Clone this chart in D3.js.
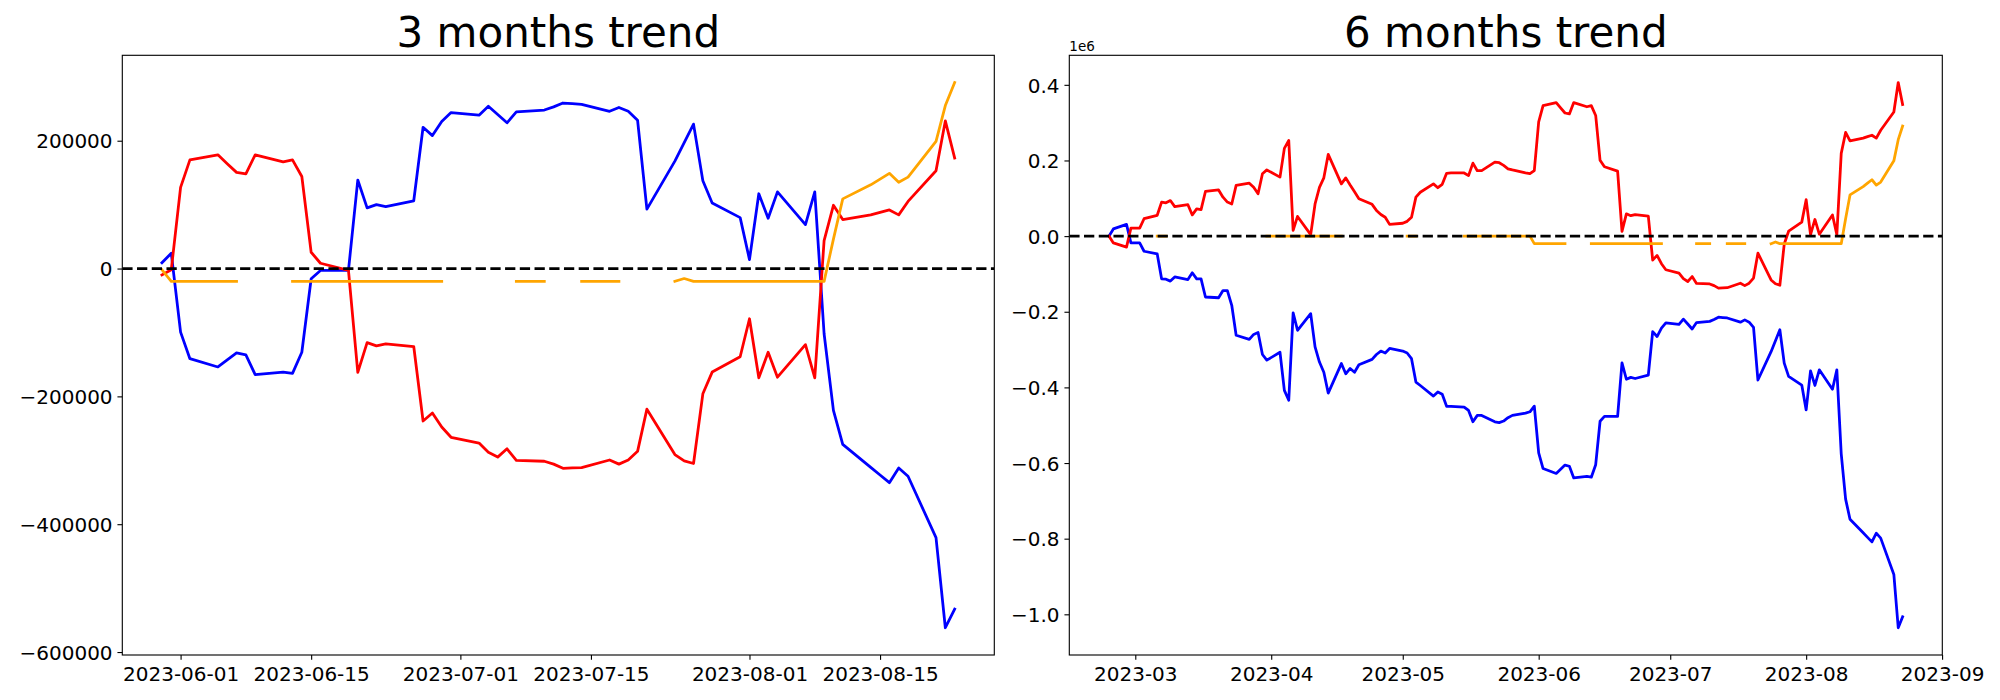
<!DOCTYPE html>
<html><head><meta charset="utf-8">
<script src="https://cdn.jsdelivr.net/npm/d3@7"></script>
<style>
body{margin:0;background:#fff;}
svg text{font-family:"DejaVu Sans",sans-serif;fill:#000;}
</style>
</head><body>
<svg id="chart" width="2000" height="700"></svg>
<script>
// ---------------- 3 months data ----------------
const dates3m = ["2023-05-30","2023-05-31","2023-06-01","2023-06-02",
"2023-06-05","2023-06-06","2023-06-07","2023-06-08","2023-06-09",
"2023-06-12","2023-06-13","2023-06-14","2023-06-15","2023-06-16",
"2023-06-19","2023-06-20","2023-06-21","2023-06-22","2023-06-23",
"2023-06-26","2023-06-27","2023-06-28","2023-06-29","2023-06-30",
"2023-07-03","2023-07-04","2023-07-05","2023-07-06","2023-07-07",
"2023-07-10","2023-07-11","2023-07-12","2023-07-13","2023-07-14",
"2023-07-17","2023-07-18","2023-07-19","2023-07-20","2023-07-21",
"2023-07-24","2023-07-25","2023-07-26","2023-07-27","2023-07-28",
"2023-07-31","2023-08-01","2023-08-02","2023-08-03","2023-08-04",
"2023-08-07","2023-08-08","2023-08-09","2023-08-10","2023-08-11",
"2023-08-14","2023-08-15","2023-08-16","2023-08-17","2023-08-18",
"2023-08-21","2023-08-22","2023-08-23"];
const blue3m = [9000, 24000, -99500, -141000,
-154000, -143000, -132000, -135000, -166000,
-162000, -164000, -131000, -16000, -3000,
-3000, 138500, 95000, 100000, 97000,
106000, 221000, 208000, 230000, 244000,
240000, 254000, 241000, 228000, 245000,
248000, 253000, 259000, 258000, 257000,
246000, 252000, 246000, 232000, 93000,
168000, 197000, 226000, 137500, 102600,
79700, 14000, 117000, 78600, 120000,
68700, 120000, -102000, -222000, -275000,
-311000, -323000, -335000, -312000, -325000,
-421000, -562000, -533000];
const red3m = [-10000, -2000, 127000, 170000,
178000, 164000, 150500, 148000, 178000,
167000, 170000, 144000, 25500, 8300,
-3000, -162500, -116000, -121000, -118000,
-122000, -238500, -226000, -248000, -264000,
-273000, -287500, -295000, -282000, -300000,
-301500, -306000, -312500, -312000, -311500,
-299500, -306000, -299500, -286000, -220000,
-291000, -301000, -305000, -196000, -162000,
-138000, -78600, -171000, -131000, -170000,
-119000, -171000, 43700, 99000, 76600,
84000, 88000, 91700, 84000, 105000,
153000, 231000, 173000];
const orange3m = [-2000, -20000, -20000, -20000,
-20000, -20000, -20000, null, null,
null, -20000, -20000, -20000, -20000,
-20000, -20000, -20000, -20000, -20000,
-20000, -20000, -20000, -20000, null,
null, null, null, null, -20000,
-20000, null, null, null, -20000,
-20000, -20000, null, null, null,
-20000, -15600, -20000, -20000, -20000,
-20000, -20000, -20000, -20000, -20000,
-20000, -20000, -20000, 46000, 109000,
131000, 140000, 149000, 135000, 143000,
199000, 255000, 291000];

// ---------------- 6 months data ----------------
const dates6m = ["2023-02-23","2023-02-24","2023-02-27","2023-02-28","2023-03-01","2023-03-02","2023-03-03",
"2023-03-06","2023-03-07","2023-03-08","2023-03-09","2023-03-10",
"2023-03-13","2023-03-14","2023-03-15","2023-03-16","2023-03-17",
"2023-03-20","2023-03-21","2023-03-22","2023-03-23","2023-03-24",
"2023-03-27","2023-03-28","2023-03-29","2023-03-30","2023-03-31",
"2023-04-03","2023-04-04","2023-04-05","2023-04-06","2023-04-07",
"2023-04-10","2023-04-11","2023-04-12","2023-04-13","2023-04-14",
"2023-04-17","2023-04-18","2023-04-19","2023-04-20","2023-04-21",
"2023-04-24","2023-04-25","2023-04-26","2023-04-27","2023-04-28",
"2023-05-01","2023-05-02","2023-05-03","2023-05-04","2023-05-05",
"2023-05-08","2023-05-09","2023-05-10","2023-05-11","2023-05-12",
"2023-05-15","2023-05-16","2023-05-17","2023-05-18","2023-05-19",
"2023-05-22","2023-05-23","2023-05-24","2023-05-25","2023-05-26",
"2023-05-29"].concat(dates3m);
const blue6m = [0, 19000, 31000, -18000, -18000, -18000, -40000,
-47000, -113000, -114000, -119000, -108000,
-115000, -97000, -113000, -113000, -161000,
-163000, -144000, -144000, -183000, -262000,
-273000, -260000, -255000, -313000, -328000,
-307000, -408000, -434000, -203000, -249000,
-205000, -293000, -333000, -360000, -415000,
-337000, -364000, -350000, -360000, -340000,
-326000, -313000, -304000, -309000, -297000,
-304000, -309000, -324000, -386000, -395000,
-423000, -412000, -418000, -450000, -450000,
-452000, -461000, -491000, -474000, -474000,
-491000, -493000, -489000, -480000, -474000,
-468000,
-464500, -449500, -573000, -614500,
-627500, -616500, -605500, -608500, -639500,
-635500, -637500, -604500, -489500, -476500,
-476500, -335000, -378500, -373500, -376500,
-367500, -252500, -265500, -243500, -229500,
-233500, -219500, -232500, -245500, -228500,
-225500, -220500, -214500, -215500, -216500,
-227500, -221500, -227500, -241500, -380500,
-305500, -276500, -247500, -336000, -370900,
-393800, -459500, -356500, -394900, -353500,
-404800, -353500, -575500, -695500, -748500,
-784500, -796500, -808500, -785500, -798500,
-894500, -1035500, -1006500];
const red6m = [0, -18000, -29000, 21000, 21000, 21000, 46000,
55000, 90000, 88000, 94000, 78000,
83000, 56000, 72000, 70000, 118000,
122000, 103000, 90000, 85000, 134000,
140000, 129000, 112000, 165000, 175000,
156000, 232000, 253000, 15000, 52000,
4000, 85000, 129000, 154000, 216000,
138000, 154000, 135000, 117000, 99000,
84000, 68000, 57000, 50000, 31000,
34000, 39000, 50000, 103000, 116000,
138000, 128000, 137000, 166000, 167000,
167000, 160000, 193000, 173000, 173000,
195500, 194000, 187000, 178000, 175000,
167000,
165000, 173000, 302000, 345000,
353000, 339000, 325500, 323000, 353000,
342000, 345000, 319000, 200500, 183300,
172000, 12500, 59000, 54000, 57000,
53000, -63500, -51000, -73000, -89000,
-98000, -112500, -120000, -107000, -125000,
-126500, -131000, -137500, -137000, -136500,
-124500, -131000, -124500, -111000, -45000,
-116000, -126000, -130000, -21000, 13000,
37000, 96400, 4000, 44000, 5000,
56000, 4000, 218700, 274000, 251600,
259000, 263000, 266700, 259000, 280000,
328000, 406000, 348000];
const orange6m = [null, null, null, null, null, null, null,
0, 0, 0, null, null,
null, null, null, null, null,
null, null, null, null, null,
null, null, null, null, 0,
0, 0, 0, 0, 0,
0, 0, 0, 0, 0,
0, null, null, null, null,
null, null, null, null, null,
null, 0, 0, 0, null,
null, null, null, null, null,
0, 0, 0, 0, 0,
0, 0, 0, 0, 0,
0,
0, -20000, -20000, -20000,
-20000, -20000, -20000, null, null,
null, -20000, -20000, -20000, -20000,
-20000, -20000, -20000, -20000, -20000,
-20000, -20000, -20000, -20000, null,
null, null, null, null, -20000,
-20000, null, null, null, -20000,
-20000, -20000, null, null, null,
-20000, -15600, -20000, -20000, -20000,
-20000, -20000, -20000, -20000, -20000,
-20000, -20000, -20000, 46000, 109000,
131000, 140000, 149000, 135000, 143000,
199000, 255000, 291000];

// ---------------- ticks & labels ----------------
const xTicks3m = ["2023-06-01","2023-06-15","2023-07-01","2023-07-15","2023-08-01","2023-08-15"];
const yTicks3m = [-600000, -400000, -200000, 0, 200000];
const xTicks6m = ["2023-03-01","2023-04-01","2023-05-01","2023-06-01","2023-07-01","2023-08-01","2023-09-01"];
const yTicks6m = [-1000000, -800000, -600000, -400000, -200000, 0, 200000, 400000];
const titles = ["3 months trend", "6 months trend"];
const seriesColors = ["#0000ff", "#ff0000", "#ffa500"];

const parse = d3.timeParse("%Y-%m-%d");
const svg = d3.select("#chart");
const PX = 100/72; // px per pt at 100 dpi

function minus(s){ return s.replace(/-/g, "\u2212"); }

function panel(o){
  const g = svg.append("g");
  const dts = o.dates.map(parse);
  const d0 = d3.min(dts), d1 = d3.max(dts);
  const span = d1 - d0;
  const x = d3.scaleTime()
    .domain([new Date(+d0 - 0.05*span), new Date(+d1 + 0.05*span)])
    .range([o.left, o.right]);
  const all = o.series.flatMap(s => s.values).filter(v => v != null);
  const lo = d3.min(all), hi = d3.max(all), r = hi - lo;
  const y = d3.scaleLinear().domain([lo - 0.05*r, hi + 0.05*r]).range([o.bottom, o.top]);

  const clipId = "clip" + o.id;
  svg.append("defs").append("clipPath").attr("id", clipId)
    .append("rect").attr("x", o.left).attr("y", o.top)
    .attr("width", o.right - o.left).attr("height", o.bottom - o.top);

  const plot = g.append("g").attr("clip-path", `url(#${clipId})`);
  o.series.forEach(s => {
    const pts = dts.map((d, i) => [d, s.values[i]]);
    const line = d3.line().defined(p => p[1] != null)
      .x(p => x(p[0])).y(p => y(p[1]));
    plot.append("path").attr("d", line(pts))
      .attr("fill", "none").attr("stroke", s.color)
      .attr("stroke-width", 2*PX).attr("stroke-linejoin", "round")
      .attr("stroke-linecap", "square");
  });
  // zero reference line
  plot.append("line").attr("x1", o.left).attr("x2", o.right)
    .attr("y1", y(0)).attr("y2", y(0))
    .attr("stroke", "#000").attr("stroke-width", 2*PX)
    .attr("stroke-dasharray", `${7.4*PX},${3.2*PX}`);

  const tick = 3.5*PX, pad = 3.5*PX;
  const xa = g.append("g").attr("transform", `translate(0,${o.bottom})`)
    .call(d3.axisBottom(x).tickValues(o.xTicks.map(parse)).tickFormat(d3.timeFormat(o.xFmt))
      .tickSize(tick).tickPadding(pad + 1.8).tickSizeOuter(0));
  const ya = g.append("g").attr("transform", `translate(${o.left},0)`)
    .call(d3.axisLeft(y).tickValues(o.yTicks).tickFormat(o.yFmt)
      .tickSize(tick).tickPadding(pad).tickSizeOuter(0));
  [xa, ya].forEach(a => {
    a.select(".domain").remove();
    a.selectAll(".tick line").attr("stroke", "#000").attr("stroke-width", 0.8*PX);
    a.selectAll(".tick text").attr("font-size", 20).attr("font-family", "DejaVu Sans").attr("fill", "#000");
  });
  ya.selectAll(".tick text").attr("dy", "0.36em");

  g.append("rect").attr("x", o.left).attr("y", o.top)
    .attr("width", o.right - o.left).attr("height", o.bottom - o.top)
    .attr("fill", "none").attr("stroke", "#000").attr("stroke-width", 0.8*PX);

  g.append("text").attr("x", (o.left + o.right)/2).attr("y", 46.5)
    .attr("text-anchor", "middle").attr("font-size", 42).text(o.title);
  if (o.offsetText) {
    g.append("text").attr("x", o.left).attr("y", 50.7)
      .attr("font-size", 13.5).text(o.offsetText);
  }
}

panel({id: 1, left: 122.3, right: 994.3, top: 55.3, bottom: 655,
  dates: dates3m,
  series: [{values: blue3m, color: seriesColors[0]}, {values: red3m, color: seriesColors[1]}, {values: orange3m, color: seriesColors[2]}],
  xTicks: xTicks3m, xFmt: "%Y-%m-%d", yTicks: yTicks3m,
  yFmt: d => minus(String(d)), title: titles[0]});

panel({id: 2, left: 1069.3, right: 1942.3, top: 55.3, bottom: 655,
  dates: dates6m,
  series: [{values: blue6m, color: seriesColors[0]}, {values: red6m, color: seriesColors[1]}, {values: orange6m, color: seriesColors[2]}],
  xTicks: xTicks6m, xFmt: "%Y-%m", yTicks: yTicks6m,
  yFmt: d => minus((d/1e6).toFixed(1)), title: titles[1], offsetText: "1e6"});
</script>
</body></html>
